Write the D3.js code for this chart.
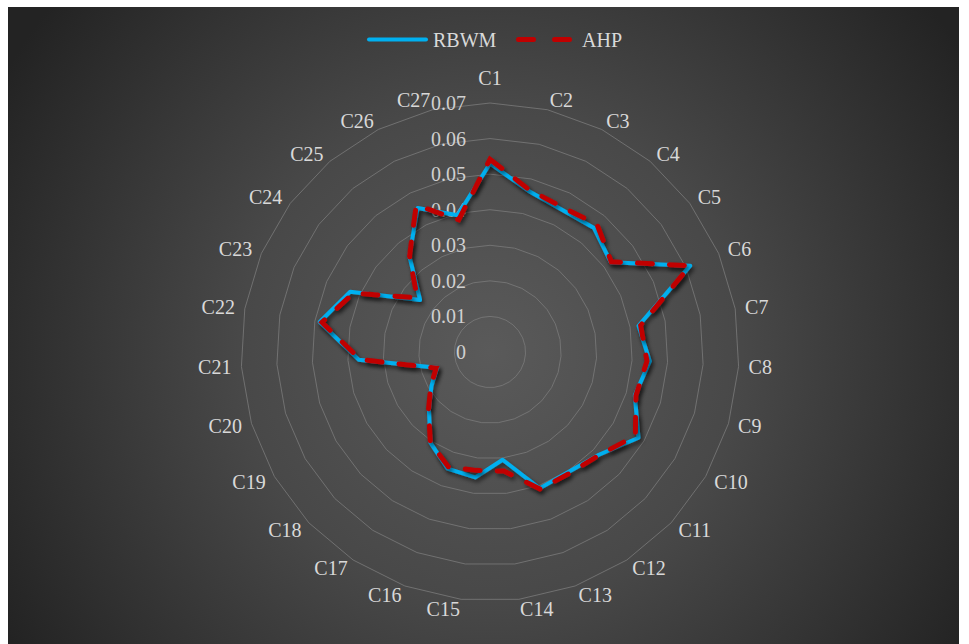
<!DOCTYPE html>
<html>
<head>
<meta charset="utf-8">
<script src="https://cdn.jsdelivr.net/npm/d3@7"></script>
<style>
  html, body { margin: 0; padding: 0; background: #ffffff; }
  svg { display: block; }
  text { font-family: "Liberation Serif", "Times New Roman", serif; }
</style>
</head>
<body>
<svg id="chart" width="969" height="644"></svg>
<script>
// ---- data ----
const categories = ["C1","C2","C3","C4","C5","C6","C7","C8","C9","C10","C11","C12","C13","C14",
  "C15","C16","C17","C18","C19","C20","C21","C22","C23","C24","C25","C26","C27"];
const rbwm = [0.0530, 0.0466, 0.0448, 0.0455, 0.0423, 0.0613, 0.0424, 0.0450, 0.0425, 0.0482,
  0.0421, 0.0403, 0.0408, 0.0305, 0.0355, 0.0349, 0.0305, 0.0236, 0.0190, 0.0155,
  0.0370, 0.0486, 0.0428, 0.0245, 0.0353, 0.0453, 0.0395];
const ahp = [0.0542, 0.0470, 0.0455, 0.0468, 0.0425, 0.0612, 0.0430, 0.0442, 0.0428, 0.0472,
  0.0422, 0.0408, 0.0410, 0.0337, 0.0335, 0.0343, 0.0305, 0.0238, 0.0192, 0.0158,
  0.0365, 0.0480, 0.0418, 0.0255, 0.0352, 0.0462, 0.0382];
const seriesNames = ["RBWM", "AHP"];
const tickValues = [0, 0.01, 0.02, 0.03, 0.04, 0.05, 0.06, 0.07];

// ---- layout ----
const W = 969, H = 644;
const cx = 490, cy = 352, R = 249;
const svg = d3.select("#chart");
const defs = svg.append("defs");

const grad = defs.append("radialGradient").attr("id", "bg")
  .attr("gradientUnits", "userSpaceOnUse")
  .attr("cx", cx).attr("cy", cy).attr("r", 560);
grad.append("stop").attr("offset", "0%").attr("stop-color", "#5a5a5a");
grad.append("stop").attr("offset", "45%").attr("stop-color", "#484848");
grad.append("stop").attr("offset", "100%").attr("stop-color", "#232323");

const sh = defs.append("filter").attr("id", "shadow")
  .attr("x", "-10%").attr("y", "-10%").attr("width", "120%").attr("height", "120%");
sh.append("feDropShadow").attr("dx", 2).attr("dy", 3).attr("stdDeviation", 2)
  .attr("flood-color", "#000").attr("flood-opacity", 0.55);

svg.append("rect").attr("x", 8).attr("y", 7).attr("width", 951).attr("height", 640)
  .attr("fill", "url(#bg)");

const n = categories.length;
const angle = d3.scaleLinear().domain([0, n]).range([0, 2 * Math.PI]);
const r = d3.scaleLinear().domain([0, 0.07]).range([0, R]);

const g = svg.append("g").attr("transform", `translate(${cx},${cy})`);

// grid rings
const ringLine = d3.lineRadial().angle((d, i) => angle(i)).radius(d => r(d)).curve(d3.curveLinearClosed);
g.append("g").selectAll("path").data(tickValues.filter(v => v > 0)).join("path")
  .attr("d", v => ringLine(categories.map(() => v)))
  .attr("fill", "none").attr("stroke", "#7b7b7b").attr("stroke-width", 1).attr("opacity", 0.8);

// tick labels
g.append("g").selectAll("text").data(tickValues).join("text")
  .attr("x", -24).attr("y", v => -r(v)).attr("dy", "0.35em")
  .attr("text-anchor", "end").attr("font-size", 20).attr("fill", "#d0d0d0")
  .text(v => v === 0 ? "0" : d3.format(".2f")(v));

// category labels
const LR = 259;
g.append("g").selectAll("text").data(categories).join("text")
  .each(function(c, i) {
    const a = angle(i), s = Math.sin(a), co = Math.cos(a);
    const t = d3.select(this);
    let x = LR * s, y = -LR * co, anchor;
    if (Math.abs(s) < 0.01) { anchor = "middle"; y += (co > 0 ? -15 : 15); }
    else if (s > 0) { anchor = "start"; x += 0; }
    else { anchor = "end"; x -= 0; }
    t.attr("x", x).attr("y", y).attr("dy", "0.35em").attr("text-anchor", anchor);
  })
  .attr("font-size", 20).attr("fill", "#d9d9d9")
  .text(d => d);

// series
const seriesLine = d3.lineRadial().angle((d, i) => angle(i)).radius(d => r(d)).curve(d3.curveLinearClosed);
g.append("path").datum(rbwm).attr("d", seriesLine)
  .attr("fill", "none").attr("stroke", "#00B0F0").attr("stroke-width", 4)
  .attr("stroke-linejoin", "round").attr("filter", "url(#shadow)");
g.append("path").datum(ahp).attr("d", seriesLine)
  .attr("fill", "none").attr("stroke", "#C00000").attr("stroke-width", 5)
  .attr("stroke-linecap", "round").attr("stroke-dasharray", "15,17")
  .attr("filter", "url(#shadow)");

// legend
const leg = svg.append("g");
const ly = 39.5;
leg.append("line").attr("x1", 369).attr("x2", 426).attr("y1", ly).attr("y2", ly)
  .attr("stroke", "#00B0F0").attr("stroke-width", 4).attr("stroke-linecap", "round");
leg.append("text").attr("x", 433).attr("y", ly).attr("dy", "0.35em")
  .attr("font-size", 20).attr("fill", "#d9d9d9").text(seriesNames[0]);
leg.append("line").attr("x1", 518.5).attr("x2", 570).attr("y1", ly).attr("y2", ly)
  .attr("stroke", "#C00000").attr("stroke-width", 5).attr("stroke-linecap", "round")
  .attr("stroke-dasharray", "15,21");
leg.append("text").attr("x", 582).attr("y", ly).attr("dy", "0.35em")
  .attr("font-size", 20).attr("fill", "#d9d9d9").text(seriesNames[1]);
</script>
</body>
</html>
